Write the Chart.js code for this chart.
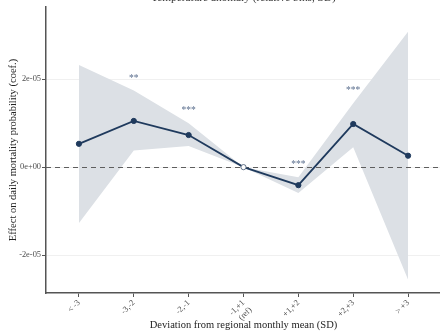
<!DOCTYPE html>
<html>
<head>
<meta charset="utf-8">
<script src="https://cdn.jsdelivr.net/npm/chart.js@4/dist/chart.umd.min.js"></script>
<style>
  html, body { margin: 0; padding: 0; background: #ffffff; overflow: hidden; width: 440px; height: 333px; }
  #wrap { position: absolute; left: 0; top: -10px; width: 446px; height: 343px; }
</style>
</head>
<body>
<div id="wrap"><canvas id="chart"></canvas></div>
<script>
// Temperature anomaly bins (SD from the regional monthly mean)
const categories = ['< -3', '-3,-2', '-2,-1', ['-1,+1', '(ref)'], '+1,+2', '+2,+3', '> +3'];
// Point estimates and 95% confidence bounds
const estimate = [0.53e-5, 1.05e-5, 0.73e-5, 0, -0.41e-5, 0.98e-5, 0.26e-5];
const upper    = [2.32e-5, 1.74e-5, 1.00e-5, 0, -0.23e-5, 1.45e-5, 3.08e-5];
const lower    = [-1.27e-5, 0.38e-5, 0.48e-5, 0, -0.59e-5, 0.45e-5, -2.56e-5];
// Significance markers
const stars    = ['', '**', '***', '', '***', '***', ''];
const refIndex = 3;
// Y axis tick values
const yTickValues = [-2e-5, 0, 2e-5];

const SERIF = '"Liberation Serif", "Times New Roman", serif';
const NAVY = '#1f3a5d';
const BAND = '#dce0e5';

const toPoints = arr => arr.map((v, i) => ({ x: i, y: v }));

function sciLabel(v) {
  return Number(v).toExponential(0).replace(/e([+-])(\d)$/, 'e$10$2');
}

// Dashed reference line at zero, drawn above the band and below the estimate line
const zeroLine = {
  id: 'zeroLine',
  beforeDatasetsDraw(chart) {
    const { ctx, chartArea, scales } = chart;
    const y = Math.round(scales.y.getPixelForValue(0)) + 0.5;
    ctx.save();
    ctx.strokeStyle = '#5e5e5e';
    ctx.lineWidth = 1;
    ctx.setLineDash([5, 4]);
    ctx.beginPath();
    ctx.moveTo(chartArea.left, y);
    ctx.lineTo(chartArea.right, y);
    ctx.stroke();
    ctx.restore();
  }
};

// Significance stars above the upper bound of each bin
const starLabels = {
  id: 'starLabels',
  afterDatasetsDraw(chart) {
    const { ctx, scales } = chart;
    ctx.save();
    ctx.fillStyle = '#5b6f8e';
    ctx.font = '9.5px ' + SERIF;
    ctx.textAlign = 'center';
    ctx.textBaseline = 'alphabetic';
    stars.forEach((s, i) => {
      if (!s) return;
      const x = scales.x.getPixelForValue(i);
      const y = scales.y.getPixelForValue(upper[i]) - 15;
      ctx.fillText(s, x, y + 5);
    });
    ctx.restore();
  }
};

new Chart(document.getElementById('chart'), {
  type: 'line',
  data: {
    datasets: [
      {
        label: 'estimate',
        data: toPoints(estimate),
        borderColor: NAVY,
        borderWidth: 1.8,
        pointRadius: 2.6,
        pointBorderWidth: estimate.map((_, i) => i === refIndex ? 0.9 : 1),
        pointBackgroundColor: estimate.map((_, i) => i === refIndex ? '#ffffff' : NAVY),
        pointBorderColor: estimate.map((_, i) => i === refIndex ? '#4e6078' : NAVY),
        fill: false,
        tension: 0,
        order: 0
      },
      {
        label: 'upper',
        data: toPoints(upper),
        borderWidth: 0,
        pointRadius: 0,
        backgroundColor: BAND,
        fill: '+1',
        tension: 0,
        order: 1
      },
      {
        label: 'lower',
        data: toPoints(lower),
        borderWidth: 0,
        pointRadius: 0,
        fill: false,
        tension: 0,
        order: 2
      }
    ]
  },
  options: {
    responsive: true,
    maintainAspectRatio: false,
    animation: false,
    layout: { padding: { left: 0, right: 4, top: 0, bottom: 0 } },
    plugins: {
      legend: { display: false },
      tooltip: { enabled: false },
      filler: { drawTime: 'beforeDatasetsDraw' },
      title: {
        display: true,
        fullSize: false,
        text: 'Temperature anomaly (relative bins, SD)',
        color: '#333333',
        font: { family: SERIF, size: 11.3, weight: 'normal' },
        padding: { top: 1.5, bottom: 1.9 }
      }
    },
    scales: {
      x: {
        type: 'linear',
        min: -0.6,
        max: 6.6,
        afterBuildTicks(scale) { scale.ticks = categories.map((_, i) => ({ value: i })); },
        afterFit(scale) { scale.height = 40; },
        ticks: {
          callback: v => categories[v],
          minRotation: 45,
          maxRotation: 45,
          autoSkip: false,
          padding: 1,
          color: '#4d4d4d',
          font: { family: SERIF, size: 8.4 }
        },
        grid: { drawOnChartArea: false, drawTicks: true, tickLength: 4, tickColor: '#555555', tickWidth: 1 },
        border: { display: true, color: '#555555', width: 1.5 },
        title: {
          display: true,
          text: 'Deviation from regional monthly mean (SD)',
          color: '#222222',
          font: { family: SERIF, size: 10.5 },
          padding: { top: 0, bottom: 1.5 }
        }
      },
      y: {
        type: 'linear',
        min: -2.86e-5,
        max: 3.64e-5,
        afterBuildTicks(scale) { scale.ticks = yTickValues.map(v => ({ value: v })); },
        afterFit(scale) { scale.width = 46; },
        ticks: {
          callback: v => sciLabel(v),
          padding: 1,
          color: '#4d4d4d',
          font: { family: SERIF, size: 8.4 }
        },
        grid: { color: '#ececec', lineWidth: 0.8, drawTicks: true, tickLength: 4, tickColor: '#555555', tickWidth: 1 },
        border: { display: true, color: '#555555', width: 1.5 },
        title: {
          display: true,
          text: 'Effect on daily mortality probability (coef.)',
          color: '#222222',
          font: { family: SERIF, size: 10.5 },
          padding: { top: 6.7, bottom: 0 }
        }
      }
    }
  },
  plugins: [zeroLine, starLabels]
});
</script>
</body>
</html>
